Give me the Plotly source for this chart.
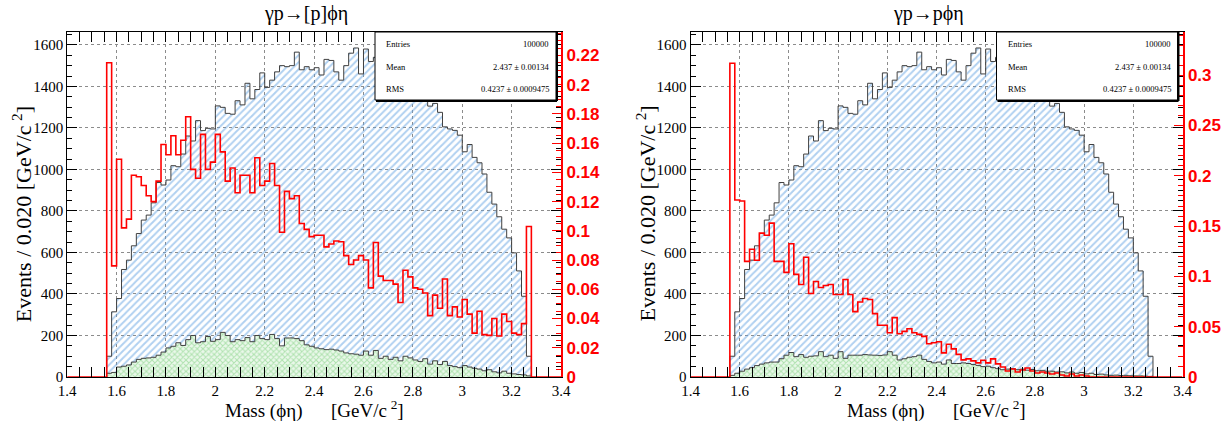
import numpy as np
import plotly.graph_objects as go

# ---------------- data (bins of 0.020 GeV starting at 1.56) ----------------
BIN_START = 1.56
BIN_WIDTH = 0.02
AXIS_MIN, AXIS_MAX = 1.4, 3.4

# all generated events (same in both panels)
all_events = [
    100, 314, 378, 518, 563, 632, 691, 756, 780, 839,
    937, 925, 949, 1018, 1013, 1074, 1161, 1137, 1235, 1187,
    1198, 1195, 1306, 1299, 1270, 1266, 1331, 1311, 1415, 1340,
    1385, 1465, 1395, 1430, 1470, 1500, 1495, 1500, 1565, 1480,
    1495, 1480, 1490, 1455, 1530, 1525, 1470, 1430, 1500, 1560,
    1585, 1460, 1580, 1520, 1540, 1500, 1510, 1470, 1480, 1445,
    1430, 1410, 1390, 1360, 1330, 1305, 1318, 1275, 1205, 1195,
    1188, 1165, 1085, 1120, 1058, 1032, 978, 890, 833, 772,
    712, 670, 598, 511, 389, 100,
]

# accepted events, left panel  (γp→[p]ϕη)
left_accepted = [
    18, 22, 48, 52, 58, 72, 85, 90, 92, 95,
    105, 120, 140, 148, 165, 152, 180, 200, 165, 170,
    195, 172, 180, 215, 200, 170, 180, 175, 190, 170,
    200, 185, 180, 205, 185, 150, 188, 188, 185, 175,
    155, 148, 140, 136, 132, 134, 130, 125, 116, 112,
    110, 105, 125, 105, 128, 90, 100, 85, 95, 78,
    100, 92, 82, 75, 88, 62, 78, 60, 75, 55,
    50, 45, 55, 48, 42, 38, 30, 35, 25, 20,
    28, 18, 15, 12, 10, 5,
]

# accepted events, right panel  (γp→pϕη)
right_accepted = [
    8, 18, 28, 38, 45, 55, 62, 68, 72, 72,
    88, 105, 118, 98, 108, 95, 100, 102, 122, 98,
    105, 90, 122, 90, 105, 105, 105, 108, 106, 105,
    104, 106, 122, 105, 82, 88, 95, 98, 105, 85,
    75, 68, 72, 62, 82, 65, 65, 68, 65, 60,
    56, 50, 52, 45, 40, 35, 38, 40, 35, 38,
    33, 36, 30, 32, 28, 28, 24, 25, 20, 24,
    18, 22, 15, 18, 12, 14, 10, 8, 9, 7,
    8, 6, 5, 5, 4, 3,
]

# efficiency (red, right axis), left panel
left_efficiency = [
    0.215, 0.076, 0.149, 0.102, 0.108, 0.138, 0.137, 0.131, 0.124, 0.120,
    0.134, 0.159, 0.152, 0.165, 0.152, 0.162, 0.178, 0.142, 0.136, 0.166,
    0.142, 0.147, 0.166, 0.154, 0.134, 0.143, 0.126, 0.138, 0.138, 0.126,
    0.150, 0.131, 0.134, 0.146, 0.131, 0.099, 0.127, 0.122, 0.124, 0.105,
    0.101, 0.096, 0.097, 0.097, 0.089, 0.091, 0.093, 0.0925, 0.083, 0.077,
    0.080, 0.083, 0.080, 0.061, 0.092, 0.069, 0.066, 0.066, 0.0635, 0.051,
    0.073, 0.0685, 0.061, 0.060, 0.0575, 0.042, 0.056, 0.047, 0.067, 0.042,
    0.048, 0.041, 0.053, 0.043, 0.030, 0.045, 0.029, 0.0285, 0.040, 0.028,
    0.043, 0.038, 0.030, 0.029, 0.0365, 0.103,
]

# efficiency (red, right axis), right panel
right_efficiency = [
    0.312, 0.176, 0.175, 0.115, 0.127, 0.116, 0.143, 0.141, 0.153, 0.115,
    0.115, 0.104, 0.1325, 0.102, 0.092, 0.119, 0.083, 0.095, 0.089, 0.091,
    0.092, 0.082, 0.082, 0.097, 0.082, 0.065, 0.0745, 0.078, 0.077, 0.063,
    0.0514, 0.0514, 0.044, 0.059, 0.043, 0.0454, 0.048, 0.044, 0.0424, 0.0404,
    0.033, 0.034, 0.035, 0.024, 0.0325, 0.028, 0.0225, 0.017, 0.018, 0.016,
    0.014, 0.0166, 0.014, 0.018, 0.013, 0.010, 0.006, 0.008, 0.005, 0.007,
    0.009, 0.006, 0.004, 0.005, 0.004, 0.003, 0.004, 0.002, 0.001, 0.003,
    0.001, 0.002, 0.001, 0, 0, 0, 0, 0, 0, 0,
    0, 0, 0, 0, 0, 0,
]

panel_titles = ["γp→[p]ϕη", "γp→pϕη"]
stats_labels = ["Entries", "Mean", "RMS"]
stats_values = ["100000", "2.437 ± 0.00134", "0.4237 ± 0.0009475"]
eff_ranges = [0.236, 0.343]
eff_dticks = [0.02, 0.05]
eff_minor = [0.005, 0.01]

# ---------------- layout geometry (pixels) ----------------
W, H = 1224, 425
PLOT_TOP, PLOT_BOT = 32, 377
PANELS_X = [(67.2, 561.0), (690.5, 1182.5)]
COUNT_TOP = 1662

SERIF = "Liberation Serif"
SANS = "Liberation Sans"


def px(x):
    return x / W


def py(y):
    return 1 - y / H


def step_xy(values, start, pad_to=None):
    vals = list(values)
    x0 = start
    if pad_to is not None:
        lo, hi = pad_to
        npre = int(round((start - lo) / BIN_WIDTH))
        npost = int(round((hi - (start + BIN_WIDTH * len(vals))) / BIN_WIDTH))
        vals = [0.0] * npre + vals + [0.0] * npost
        x0 = lo
    edges = x0 + BIN_WIDTH * np.arange(len(vals) + 1)
    return edges, vals + [vals[-1]]


fig = go.Figure()
n = len(all_events)
centers = BIN_START + BIN_WIDTH * (np.arange(n) + 0.5)

accepted_sets = [left_accepted, right_accepted]
eff_sets = [left_efficiency, right_efficiency]

annotations = []
shapes = []

for i in range(2):
    xa = "x" if i == 0 else "x2"
    ya = "y" if i == 0 else "y3"
    ya_eff = "y2" if i == 0 else "y4"

    fig.add_trace(go.Bar(
        x=centers, y=all_events, width=BIN_WIDTH, xaxis=xa, yaxis=ya,
        marker=dict(color="rgba(0,0,0,0)", line=dict(width=0),
                    pattern=dict(shape="/", fgcolor="#62a2e2", bgcolor="rgba(0,0,0,0)",
                                 size=5, solidity=0.4)),
        showlegend=False, hoverinfo="skip"))
    fig.add_trace(go.Bar(
        x=centers, y=accepted_sets[i], width=BIN_WIDTH, xaxis=xa, yaxis=ya,
        marker=dict(color="#eaf8ea", line=dict(width=0),
                    pattern=dict(shape="x", fgcolor="#74cc74", bgcolor="#eaf8ea",
                                 size=4, solidity=0.45)),
        showlegend=False, hoverinfo="skip"))

    # outlines
    for vals in (all_events, accepted_sets[i]):
        ex, ey = step_xy(vals, BIN_START)
        ex = np.concatenate([[ex[0]], ex, [ex[-1]]])
        ey = [0] + ey + [0]
        fig.add_trace(go.Scatter(x=ex, y=ey, mode="lines", xaxis=xa, yaxis=ya,
                                 line=dict(shape="hv", color="#404040", width=1),
                                 showlegend=False, hoverinfo="skip"))

    ex, ey = step_xy(eff_sets[i], BIN_START, pad_to=(AXIS_MIN, AXIS_MAX))
    fig.add_trace(go.Scatter(x=ex, y=ey, mode="lines", xaxis=xa, yaxis=ya_eff,
                             line=dict(shape="hv", color="#ff0000", width=1.6),
                             showlegend=False, hoverinfo="skip"))

    x0p, x1p = PANELS_X[i]
    sfx = "" if i == 0 else "2"
    ysfx_c = "" if i == 0 else "3"
    ysfx_e = "2" if i == 0 else "4"

    fig.layout["xaxis" + sfx] = dict(
        domain=[px(x0p), px(x1p)], range=[AXIS_MIN, AXIS_MAX], anchor=ya,
        tick0=AXIS_MIN, dtick=0.2, ticks="inside", ticklen=10, tickcolor="black",
        mirror="allticks", showline=True, linecolor="black", linewidth=1,
        showgrid=True, gridcolor="#8c8c8c", griddash="dot", gridwidth=1,
        zeroline=False, automargin=False,
        minor=dict(ticks="inside", ticklen=5, dtick=0.05, tickcolor="black", showgrid=False),
        tickfont=dict(family=SERIF, size=15, color="black"))
    fig.layout["yaxis" + ysfx_c] = dict(
        domain=[py(PLOT_BOT), py(PLOT_TOP)], range=[0, COUNT_TOP], anchor=xa,
        tick0=0, dtick=200, ticks="inside", ticklen=10, tickcolor="black",
        mirror="allticks", showline=True, linecolor="black", linewidth=1,
        showgrid=True, gridcolor="#8c8c8c", griddash="dot", gridwidth=1,
        zeroline=False, automargin=False, tickformat="d",
        minor=dict(ticks="inside", ticklen=5, dtick=50, tickcolor="black", showgrid=False),
        tickfont=dict(family=SERIF, size=15, color="black"))
    fig.layout["yaxis" + ysfx_e] = dict(
        overlaying=ya, side="right", anchor=xa, range=[0, eff_ranges[i]],
        tick0=0, dtick=eff_dticks[i], ticks="inside", ticklen=9, tickcolor="red",
        tickwidth=1.2, showline=True, linecolor="red", linewidth=2,
        showgrid=False, zeroline=False, automargin=False,
        minor=dict(ticks="inside", ticklen=5, dtick=eff_minor[i], tickcolor="red", showgrid=False),
        tickfont=dict(family=SANS, size=17, color="red", weight="bold"))

    xc = (x0p + x1p) / 2
    annotations.append(dict(text=panel_titles[i], x=px(xc - 8), y=py(13), xref="paper", yref="paper",
                            showarrow=False, xanchor="center", yanchor="middle",
                            font=dict(family=SERIF, size=20, color="black")))
    annotations.append(dict(text="Mass (ϕη)\u00a0\u00a0\u00a0\u00a0\u00a0\u00a0[GeV/c\u2009<sup>2</sup>]",
                            x=px(xc), y=py(409), xref="paper", yref="paper",
                            showarrow=False, xanchor="center", yanchor="middle",
                            font=dict(family=SERIF, size=19, color="black")))
    annotations.append(dict(text="Events / 0.020 [GeV/c\u2009<sup>2</sup>]",
                            x=px(x0p - 45), y=py(214), xref="paper", yref="paper",
                            showarrow=False, textangle=-90, xanchor="center", yanchor="middle",
                            font=dict(family=SERIF, size=22, color="black")))

    # statistics box
    bx0, bx1 = x1p - 186, x1p - 5
    by0, by1 = PLOT_TOP, 100
    shapes.append(dict(type="rect", xref="paper", yref="paper", x0=px(bx0), x1=px(bx1),
                       y0=py(by1), y1=py(by0), fillcolor="white",
                       line=dict(color="black", width=1), layer="above"))
    shapes.append(dict(type="line", xref="paper", yref="paper", x0=px(bx0 + 1), x1=px(bx1 + 1),
                       y0=py(by1 + 1), y1=py(by1 + 1), line=dict(color="black", width=2), layer="above"))
    shapes.append(dict(type="line", xref="paper", yref="paper", x0=px(bx1 + 1), x1=px(bx1 + 1),
                       y0=py(by0), y1=py(by1 + 1), line=dict(color="black", width=2), layer="above"))
    for k, (lab, val) in enumerate(zip(stats_labels, stats_values)):
        yy = 44 + k * 22.5
        annotations.append(dict(text=lab, x=px(bx0 + 9), y=py(yy), xref="paper", yref="paper",
                                showarrow=False, xanchor="left", yanchor="middle",
                                font=dict(family=SERIF, size=8.5, color="black")))
        annotations.append(dict(text=val, x=px(bx1 - 5), y=py(yy), xref="paper", yref="paper",
                                showarrow=False, xanchor="right", yanchor="middle",
                                font=dict(family=SERIF, size=8.5, color="black")))

fig.update_layout(
    width=W, height=H, margin=dict(l=0, r=0, t=0, b=0),
    paper_bgcolor="white", plot_bgcolor="white",
    barmode="overlay", bargap=0, showlegend=False,
    annotations=annotations, shapes=shapes,
)

fig.write_html(
    "out.html",
    config={"displayModeBar": False},
    post_script="document.body.style.margin='0';document.body.style.overflow='hidden';",
)
